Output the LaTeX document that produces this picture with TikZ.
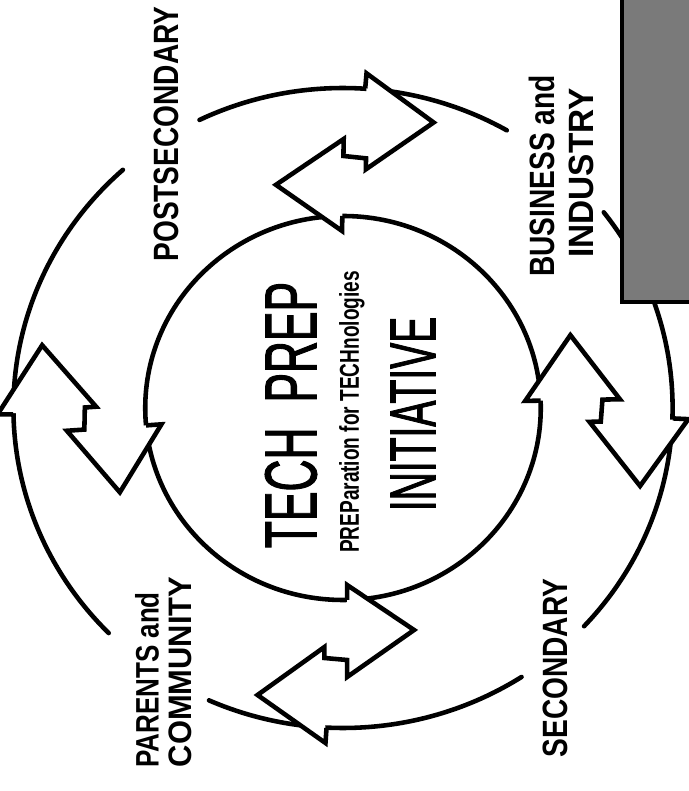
\documentclass[tikz,border=0pt]{standalone}
\usepackage{fontspec}
\setmainfont{Liberation Sans}
\newfontfamily\slimfont[FakeStretch=0.6, FakeBold=1.2]{Liberation Sans}
\newfontfamily\initfont[FakeStretch=0.7]{Liberation Sans}
\newfontfamily\narrowfont[FakeStretch=0.8]{Liberation Sans}
\newfontfamily\widefont[FakeStretch=0.95]{Liberation Sans}

\begin{document}
\begin{tikzpicture}[
  x=0.2mm, y=0.2mm,
  ring/.style={line width=2.6pt, line cap=round},
  exchange/.style={line width=2.6pt, line join=miter},
  partner/.style={rotate=90, inner sep=0pt, font=\narrowfont\bfseries\fontsize{20pt}{22pt}\selectfont},
  partnerwide/.style={partner, font=\widefont\bfseries\fontsize{20pt}{22pt}\selectfont},
  partnersmall/.style={partner, font=\narrowfont\bfseries\fontsize{18.5pt}{20pt}\selectfont},
]
\useasboundingbox (-343,-383) rectangle (345,408);
\begin{scope}[xscale=1.03]
  % inner circle and outer ring
  \draw[ring] (0,0) circle[radius=192];
  \draw[ring] (115.8:320) arc[start angle=115.8, end angle=60.2, radius=320];
  \draw[ring] (37.7:320) arc[start angle=37.7, end angle=-43, radius=320];
  \draw[ring] (-57.2:320) arc[start angle=-57.2, end angle=-114, radius=320];
  \draw[ring] (224.7:320) arc[start angle=224.7, end angle=131.9, radius=320];
  % exchange arrows between the rings
  \foreach \base in {1,89,184,270} {
    \begin{scope}[rotate=\base-270]
      \fill[white] (4,-177) -- (69,-222) -- (4,-269) -- cycle;
      \fill[white] (-18,-239) -- (-83,-287) -- (-17,-335) -- cycle;
      \draw[exchange] (4,-192) -- (4,-177) -- (69,-222) -- (4,-269) -- (4,-252)
        -- (-18,-250) -- (-18,-239) -- (-83,-287) -- (-17,-335) -- (-16,-320);
    \end{scope}
  }
\end{scope}
% shaded panel
\fill[black!52, draw=black, line width=2.6pt] (279,106) rectangle (360,430);
% centre texts
\node[rotate=90, inner sep=0pt, font=\slimfont\fontsize{42pt}{44pt}\selectfont] (tech) at (-52,-7) {TECH\hspace{5mm}PREP};
\node[rotate=90, inner sep=0pt, font=\initfont\bfseries\fontsize{15.5pt}{17pt}\selectfont] (prep) at (9,-4) {PREParation for TECHnologies};
\node[rotate=90, inner sep=0pt, font=\slimfont\fontsize{37pt}{39pt}\selectfont] (init) at (70,-6) {INITIATIVE};
% partners
\node[partner] (post) at (-177,274) {POSTSECONDARY};
\node[partner] (business) at (199,232) {BUSINESS and};
\node[partnerwide] (industry) at (238,235) {INDUSTRY};
\node[partner] (secondary) at (212,-260) {SECONDARY};
\node[partnersmall] (parents) at (-196,-272) {PARENTS and};
\node[partnerwide, font=\widefont\bfseries\fontsize{18.5pt}{20pt}\selectfont] (community) at (-163,-264) {COMMUNITY};
\end{tikzpicture}
\end{document}
